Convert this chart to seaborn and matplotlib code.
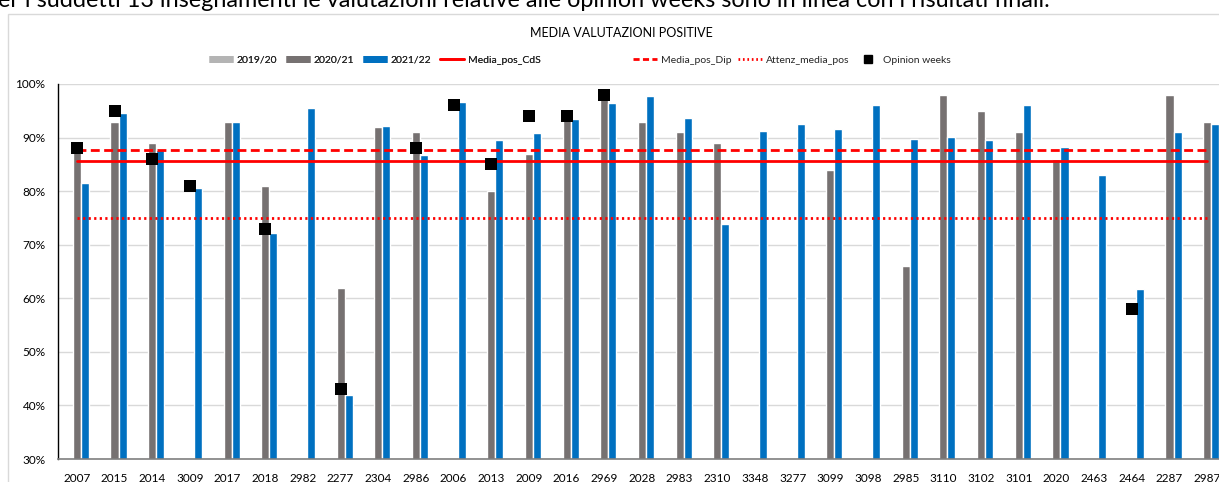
import numpy as np
import pandas as pd
import matplotlib
matplotlib.use("Agg")
import matplotlib.pyplot as plt
import seaborn as sns
from matplotlib.lines import Line2D
from matplotlib.patches import Rectangle
from matplotlib.ticker import PercentFormatter

# data
codes = ['2007', '2015', '2014', '3009', '2017', '2018', '2982', '2277', '2304', '2986',
         '2006', '2013', '2009', '2016', '2969', '2028', '2983', '2310', '3348', '3277',
         '3099', '3098', '2985', '3110', '3102', '3101', '2020', '2463', '2464', '2287', '2987']
years = ['2019/20', '2020/21', '2021/22']
val_1920 = [np.nan] * len(codes)
val_2021 = [88, 93, 89, np.nan, 93, 81, np.nan, 62, 92, 91,
            np.nan, 80, 87, 94, 98, 93, 91, 89, np.nan, np.nan,
            84, np.nan, 66, 98, 95, 91, 86, np.nan, np.nan, 98, 93]
val_2122 = [81.5, 94.6, 87.6, 80.6, 92.9, 72.1, 95.6, 41.9, 92.1, 86.7,
            96.7, 89.6, 90.8, 93.4, 96.5, 97.8, 93.6, 73.8, 91.2, 92.6,
            91.6, 96.1, 89.7, 90.1, 89.5, 96.0, 88.2, 83.0, 61.7, 91.0, 92.6]
opinion_weeks = [88, 95, 86, 81, np.nan, 73, np.nan, 43, np.nan, 88,
                 96, 85, 94, 94, 98, np.nan, np.nan, np.nan, np.nan, np.nan,
                 np.nan, np.nan, np.nan, np.nan, np.nan, np.nan, np.nan, np.nan, 58, np.nan, np.nan]
media_pos_cds = 85.6
media_pos_dip = 87.6
attenz_media_pos = 75.0
lighter_codes = ['2304', '2986']

colors = {'2019/20': '#B4B4B4', '2020/21': '#767171', '2021/22': '#0070C0'}

df = pd.DataFrame({
    'code': codes * 3,
    'year': np.repeat(years, len(codes)),
    'value': np.concatenate([val_1920, val_2021, val_2122]) / 100,
})

sns.set_style('white')
plt.rcParams['font.family'] = ['Lato', 'DejaVu Sans']

fig = plt.figure(figsize=(12.19, 4.82), dpi=100)
W, H = 1219, 482
ax = fig.add_axes([58 / W, (H - 459) / H, 1168 / W, (459 - 84) / H])

sns.barplot(data=df, x='code', y='value', hue='year', hue_order=years,
            order=codes, palette=colors, width=0.64, saturation=1,
            legend=False, ax=ax, err_kws={'linewidth': 0})

# two bars in the 2021/22 series are a lighter blue
for cont in ax.containers:
    if cont.get_label() == '2021/22':
        for p in cont.patches:
            i = int(round(p.get_x() + p.get_width() / 2))
            if codes[i] in lighter_codes:
                p.set_facecolor('#4472C4')

x = np.arange(len(codes))
ax.plot(x, [media_pos_cds / 100] * len(codes), color='#FF0000', lw=2.0, zorder=4)
ax.plot(x, [media_pos_dip / 100] * len(codes), color='#FF0000', lw=2.0,
        dashes=(3.2, 1.6), zorder=4)
ax.plot(x, [attenz_media_pos / 100] * len(codes), color='#FF0000', lw=2.0,
        dashes=(0.8, 1.2), zorder=4)
sns.scatterplot(x=x, y=np.array(opinion_weeks) / 100, marker='s', color='black',
                s=78, edgecolor='black', linewidth=0, zorder=5, ax=ax)

ax.set_xlim(-0.5, len(codes) - 0.5)
ax.set_ylim(0.3, 1.0)
ax.set_yticks(np.arange(0.3, 1.01, 0.1))
ax.yaxis.set_major_formatter(PercentFormatter(1.0, decimals=0))
ax.yaxis.grid(True, color='#D9D9D9', lw=1)
ax.set_axisbelow(True)
ax.set_xlabel('')
ax.set_ylabel('')
for s in ['top', 'right']:
    ax.spines[s].set_visible(False)
ax.spines['left'].set_color('#000000')
ax.spines['left'].set_linewidth(1)
ax.spines['bottom'].set_color('#7F7F7F')
ax.spines['bottom'].set_linewidth(1.2)
ax.tick_params(axis='x', length=0, pad=10, labelsize=8.5, labelcolor='#000000')
ax.tick_params(axis='y', length=0, pad=9, labelsize=8.5, labelcolor='#000000')

fig.text(621 / W, 1 - 33 / H, 'MEDIA VALUTAZIONI POSITIVE', ha='center', va='center',
         fontsize=9, color='#000000')

# legend, in two groups like the Excel one
h_bars = [Line2D([], [], color=colors[y], lw=5, solid_capstyle='butt') for y in years]
h_cds = Line2D([], [], color='#FF0000', lw=2)
h_dip = Line2D([], [], color='#FF0000', lw=2, dashes=(2.2, 1.2))
h_att = Line2D([], [], color='#FF0000', lw=2, dashes=(0.6, 1.0))
h_ow = Line2D([], [], color='black', marker='s', ls='none', markersize=6)
leg_kw = dict(frameon=False, fontsize=7.5, handlelength=2.3, handletextpad=0.35,
              borderpad=0, borderaxespad=0, loc='center left')
leg1 = fig.legend(h_bars + [h_cds], years + ['Media_pos_CdS'], ncol=4,
                  bbox_to_anchor=(209 / W, 1 - 60 / H), columnspacing=0.85, **leg_kw)
fig.add_artist(leg1)
fig.legend([h_dip, h_att, h_ow], ['Media_pos_Dip', 'Attenz_media_pos', 'Opinion weeks'],
           ncol=3, bbox_to_anchor=(633 / W, 1 - 60 / H), columnspacing=0.65, **leg_kw)

# chart frame and the cut-off sentence above it
fig.patches.append(Rectangle((8 / W, -0.2), 1.2, 1.2 - 14 / H, transform=fig.transFigure,
                             fill=False, edgecolor='#D9D9D9', lw=1, zorder=0))
fig.text(-16 / W, 1 - 7 / H,
         'Per i suddetti 13 insegnamenti le valutazioni relative alle opinion weeks sono in linea con i risultati finali.',
         ha='left', va='baseline', fontsize=16.8, color='#000000')

fig.savefig('out.png', dpi=100)
